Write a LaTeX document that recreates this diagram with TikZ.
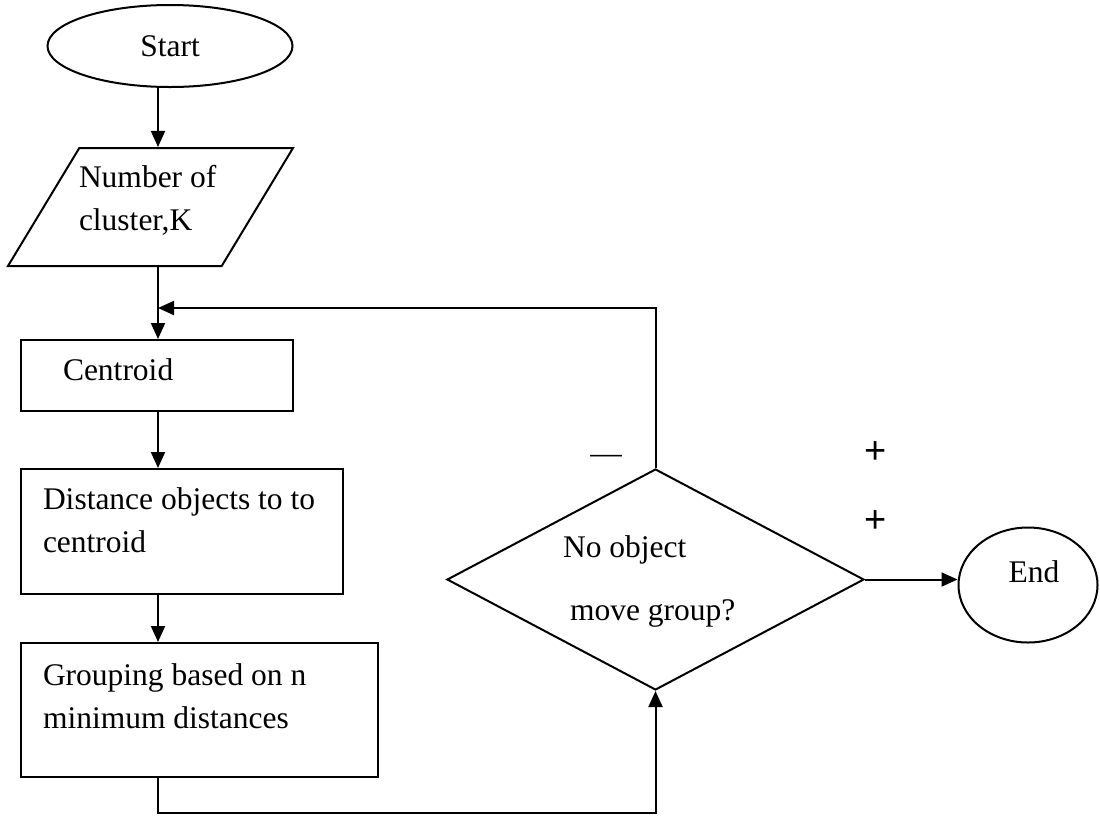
\documentclass[tikz,border=0pt]{standalone}
\usepackage{fontspec}
\setmainfont{Liberation Serif}
\newfontfamily\plusfont{Liberation Sans}
\usepackage{tikz}
\usetikzlibrary{shapes,arrows.meta,positioning}
\tikzset{term/.style={ellipse,draw,inner sep=0pt},
  io/.style={trapezium,draw,trapezium left angle=63.4,trapezium right angle=116.6,trapezium stretches,inner sep=2pt},
  proc/.style={rectangle,draw,inner sep=0pt},
  dec/.style={diamond,draw,inner sep=2pt},
  txt/.style={inner sep=0pt,align=left,anchor=west},
  sign/.style={font=\plusfont\fontsize{38}{40}\selectfont}}

\begin{document}
\begin{tikzpicture}[x=1pt,y=-1pt,>={Triangle[length=16pt,width=14pt]},line width=2pt,font=\fontsize{31.5}{43}\selectfont]
    \useasboundingbox (0,0) rectangle (1100,815);

    \node[term,minimum width=245,minimum height=82] (start) at (170,46) {Start};
    \node[io,minimum width=285,minimum height=118] (num) at (150.5,207) {};
    \node[proc,minimum width=272,minimum height=71] (cen) at (157,375.5) {};
    \node[proc,minimum width=322,minimum height=125] (dist) at (182,531.5) {};
    \node[proc,minimum width=357,minimum height=134] (grp) at (199.5,710) {};
    \node[dec,minimum width=417,minimum height=221] (chk) at (655.5,579.5) {};
    \node[term,minimum width=139,minimum height=115] (stop) at (1028,585) {};

    \node[txt] (numtxt) at (78,200) {Number of\\cluster,K};
    \node[txt] (centxt) at (62,370) {Centroid};
    \node[txt] (disttxt) at (42,520) {Distance objects to to\\centroid};
    \node[txt] (grptxt) at (42,696.5) {Grouping based on n\\minimum distances};
    \node[txt] (chktxt) at (562,581.5) {No object\\[20pt]\hspace*{7pt}move group?};
    \node (stoptxt) at (1034,572) {End};
    \node (minus) at (606,459) {—};
    \node[sign] (plusa) at (876,453) {+};
    \node[sign] (plusb) at (876,522) {+};

    \coordinate (spine) at (158,0);
    \coordinate (back) at (158,308);
    \coordinate (low) at (158,813);

    \draw [->] (start.south -| spine) -- (num.north -| spine);
    \draw [->] (num.south -| spine) -- (cen.north -| spine);
    \draw [->] (cen.south -| spine) -- (dist.north -| spine);
    \draw [->] (dist.south -| spine) -- (grp.north -| spine);
    \draw [->] (chk.north) |- (back);
    \draw [->] (grp.south -| spine) -- (low) -| (chk.south);
    \draw [->] (chk.east) -- (chk.east -| stop.west);
\end{tikzpicture}
\end{document}
